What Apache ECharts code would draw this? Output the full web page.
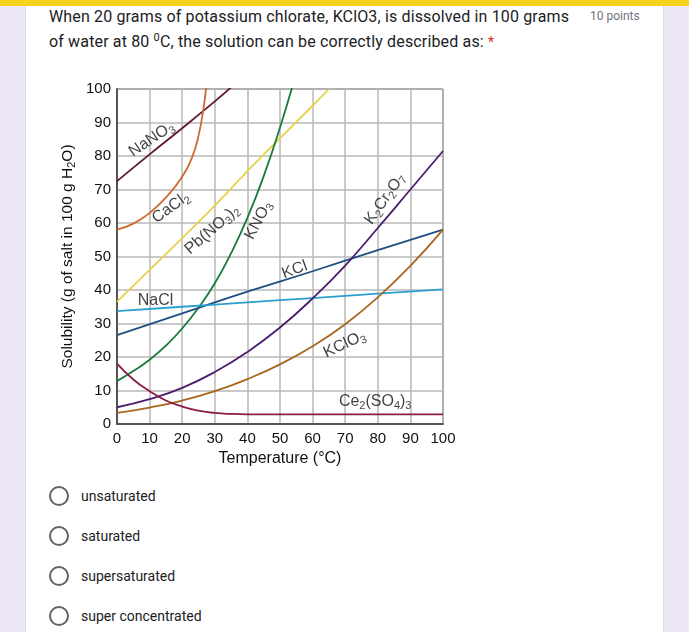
<!DOCTYPE html>
<html>
<head>
<meta charset="utf-8">
<script src="https://cdn.jsdelivr.net/npm/echarts@6/dist/echarts.min.js"></script>
<style>
  html, body { margin:0; padding:0; width:689px; height:632px; overflow:hidden; background:#ede7f6; font-family: Roboto, Arial, sans-serif; }
  #topbar { position:absolute; left:0; top:0; width:689px; height:6px; background:#f7d21c; }
  #card { position:absolute; left:25px; top:6px; width:637px; height:640px; background:#fff; border-left:1px solid #dadce0; border-right:1px solid #dadce0; }
  .q { position:absolute; left:49px; font-size:16px; color:#202124; line-height:24px; white-space:nowrap; letter-spacing:0.15px; }
  .pts { position:absolute; left:590px; top:9px; font-size:12px; color:#70757a; white-space:nowrap; }
  .opt { position:absolute; left:49px; height:20px; }
  .opt .c { position:absolute; left:0; top:0; width:16px; height:16px; border:2px solid #5f6368; border-radius:50%; }
  .opt .t { position:absolute; left:32px; top:0; font-size:14px; line-height:20px; color:#202124; white-space:nowrap; }
  #chart { position:absolute; left:0; top:0; width:689px; height:632px; z-index:2; }
</style>
</head>
<body>
<div id="topbar"></div>
<div id="card"></div>
<div class="q" style="top:5px;">When 20 grams of potassium chlorate, KClO3, is dissolved in 100 grams</div>
<div class="pts">10 points</div>
<div class="q" style="top:30px;">of water at 80 <sup style="font-size:11px;vertical-align:6px;line-height:0;">0</sup>C, the solution can be correctly described as: <span style="color:#d93025;font-size:14px;">*</span></div>
<div class="opt" style="top:486px;"><div class="c"></div><div class="t">unsaturated</div></div>
<div class="opt" style="top:526px;"><div class="c"></div><div class="t">saturated</div></div>
<div class="opt" style="top:566px;"><div class="c"></div><div class="t">supersaturated</div></div>
<div class="opt" style="top:606px;"><div class="c"></div><div class="t">super concentrated</div></div>
<div id="chart"></div>
<script>
// Temperature (°C) -> solubility (g / 100 g H2O)
const NaNO3   = [[0,72.5],[10,80.5],[20,88.3],[30,96.3],[35,100.5]];
const CaCl2   = [[0,58],[5,59.8],[10,63],[15,67.6],[20,73.8],[23,79.5],[25,86],[26.5,94],[27.4,101]];
const PbNO32  = [[0,36.5],[10,46],[20,55.5],[30,65.2],[40,75.5],[50,85.3],[60,95],[65,100]];
const KNO3    = [[0,12.8],[5,15.8],[10,19.2],[15,23.4],[20,28.5],[25,34.7],[30,42],[35,51],[40,61.5],[45,74],[50,88.5],[54,101.5]];
const KCl     = [[0,26.5],[20,33],[40,39.5],[60,45.6],[80,51.9],[100,58]];
const NaCl    = [[0,33.7],[20,35],[40,36.3],[60,37.6],[80,38.9],[100,40.2]];
const K2Cr2O7 = [[0,5],[10,7.4],[20,10.8],[30,15.5],[40,21.5],[50,28.8],[60,37.5],[70,47.3],[80,58.5],[90,70],[100,81.5]];
const KClO3   = [[0,3.3],[10,4.9],[20,7],[30,9.8],[40,13.4],[50,17.8],[60,23.2],[70,29.8],[80,37.8],[90,47.2],[100,58]];
const Ce2SO43 = [[0,18],[5,13.3],[10,9.8],[15,7],[20,5.2],[25,4],[30,3.3],[35,3],[40,2.9],[100,2.9]];

const xTicks = [0,10,20,30,40,50,60,70,80,90,100];
const yTicks = [0,10,20,30,40,50,60,70,80,90,100];

// curve labels: text, anchor temperature, anchor solubility, angle
const curveLabels = [
  ['NaNO{s|3}', 10.6, 85.0, 34],
  ['CaCl{s|2}', 16.5, 64.6, 36],
  ['Pb(NO{s|3}){s|2}', 29.2, 58.0, 41],
  ['KNO{s|3}', 43.4, 60.8, 62],
  ['KCl', 54.5, 46.0, 20],
  ['NaCl', 11.8, 36.9, 0],
  ['K{s|2}Cr{s|2}O{s|7}', 82.2, 67.2, 55],
  ['KClO{s|3}', 69.8, 23.8, 25],
  ['Ce{s|2}(SO{s|4}){s|3}', 79.2, 6.6, 0]
];

const font = "'Liberation Sans', Arial, sans-serif";
const subRich = {
  s: { fontSize: 11, lineHeight: 11, verticalAlign: 'bottom', fontFamily: font, color: '#111' }
};

function line(name, data, color) {
  return {
    name, type: 'line', data, smooth: 0.5, showSymbol: false, symbol: 'none',
    clip: true, silent: true,
    lineStyle: { color, width: 1.8 }, z: 3
  };
}

const chart = echarts.init(document.getElementById('chart'), null, { renderer: 'canvas' });
chart.setOption({
  backgroundColor: 'transparent',
  animation: false,
  grid: { left: 117, top: 89, width: 326, height: 335, show: true, borderColor: '#333', borderWidth: 1, backgroundColor: 'transparent' },
  xAxis: {
    type: 'value', min: 0, max: 100, interval: 10,
    name: 'Temperature (°C)', nameLocation: 'middle', nameGap: 27,
    nameTextStyle: { fontSize: 16, color: '#111', fontFamily: font },
    axisLine: { show: true, lineStyle: { color: '#555', width: 2 } },
    axisTick: { show: false },
    axisLabel: { fontSize: 15, color: '#111', margin: 7, fontFamily: font,
      formatter: v => xTicks.includes(v) ? String(v) : '' },
    splitLine: { show: true, lineStyle: { color: '#b8b8b8', width: 1.5 } }
  },
  yAxis: {
    type: 'value', min: 0, max: 100, interval: 10,
    name: 'Solubility (g of salt in 100 g H{s|2}O)', nameLocation: 'middle', nameGap: 40,
    nameTextStyle: { fontSize: 15.5, color: '#111', fontFamily: font, lineHeight: 19, rich: subRich },
    axisLine: { show: true, lineStyle: { color: '#555', width: 2 } },
    axisTick: { show: false },
    axisLabel: { fontSize: 15, color: '#111', margin: 6, fontFamily: font,
      formatter: v => yTicks.includes(v) ? String(v) : '' },
    splitLine: { show: true, lineStyle: { color: '#b8b8b8', width: 1.5 } }
  },
  series: [
    line('NaNO3', NaNO3, '#5e1830'),
    line('CaCl2', CaCl2, '#cc6a30'),
    line('Pb(NO3)2', PbNO32, '#e6d24a'),
    line('KNO3', KNO3, '#187a3c'),
    line('KCl', KCl, '#1f4f80'),
    line('NaCl', NaCl, '#2b9fcf'),
    line('K2Cr2O7', K2Cr2O7, '#4b1c6c'),
    line('KClO3', KClO3, '#a9661e'),
    line('Ce2(SO4)3', Ce2SO43, '#8c1d48'),
    {
      name: 'labels', type: 'scatter', symbolSize: 0, silent: true, z: 5,
      data: curveLabels.map(l => ({
        value: [l[1], l[2]],
        label: {
          show: true, position: 'inside', rotate: l[3], formatter: l[0],
          fontSize: 16, lineHeight: 20, color: '#111', fontFamily: font, rich: subRich
        }
      }))
    }
  ]
});
</script>
</body>
</html>
